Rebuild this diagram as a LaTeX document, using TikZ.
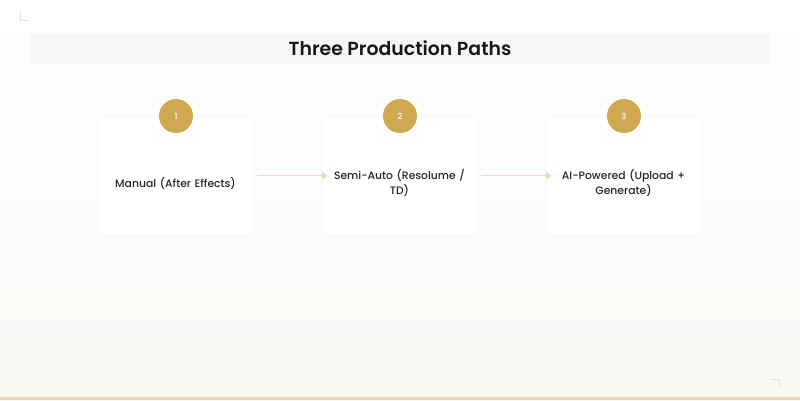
\documentclass[tikz,border=0pt]{standalone}
\usepackage{fontspec}
\setmainfont{Poppins}[BoldFont={Poppins SemiBold}]
\newfontfamily\medfont{Poppins Medium}
\usetikzlibrary{arrows.meta}
\definecolor{gold}{HTML}{CFA850}
\definecolor{bandc}{HTML}{F7F7F5}
\definecolor{arrowc}{HTML}{E9DABA}
\definecolor{bgtop}{HTML}{FFFFFF}
\definecolor{bgbot}{HTML}{F9F8F5}
\definecolor{linec}{HTML}{EBD8AE}
\tikzset{
  card/.style={draw=black!5,line width=0.5pt,fill=white,rounded corners=6pt,minimum width=155pt,minimum height=119pt},
  cardtext/.style={align=center,text width=140pt,font=\medfont\fontsize{10.8}{14.8}\selectfont,text=black!85},
  badge/.style={circle,fill=gold,minimum size=34pt,inner sep=0pt,text=white,font=\medfont\fontsize{8.5}{10}\selectfont},
  flow/.style={draw=arrowc,line width=1.2pt,-{Triangle[length=6pt,width=7pt]}},
  corner/.style={draw=black!12,line width=0.8pt}
}
\begin{document}
\begin{tikzpicture}[x=1pt,y=-1pt]
\useasboundingbox (0,0) rectangle (800,400);
\shade[top color=bgtop,bottom color=bgbot] (0,0) rectangle (800,400);
\fill[bandc] (30,34) rectangle (770,64);
\node[font=\fontsize{18.9}{22}\selectfont\bfseries,text=black!90] (title) at (400,48) {Three Production Paths};
\node[card] (c1) at (175.5,175.5) {};
\node[card] (c2) at (399.5,175.5) {};
\node[card] (c3) at (623.5,175.5) {};
\node[cardtext] (t1) at ([yshift=-7.5pt]c1.center) {Manual (After Effects)};
\node[cardtext] (t2) at ([yshift=-7.5pt]c2.center) {Semi-Auto (Resolume /\\ TD)};
\node[cardtext] (t3) at ([yshift=-7.5pt]c3.center) {AI-Powered (Upload +\\ Generate)};
\node[badge] (b1) at (176,116) {1};
\node[badge] (b2) at (400,116) {2};
\node[badge] (b3) at (624,116) {3};
\draw[flow] ([xshift=4pt]c1.east) -- ([xshift=6pt]c2.west);
\draw[flow] ([xshift=4pt]c2.east) -- ([xshift=6pt]c3.west);
\coordinate (tl) at (20,20);
\coordinate (br) at (779,379);
\draw[corner] ([yshift=8pt]tl) -- (tl) -- ([xshift=8pt]tl);
\draw[corner] ([yshift=-8pt]br) -- (br) -- ([xshift=-8pt]br);
\fill[linec] (0,397) rectangle (800,400);
\end{tikzpicture}
\end{document}
